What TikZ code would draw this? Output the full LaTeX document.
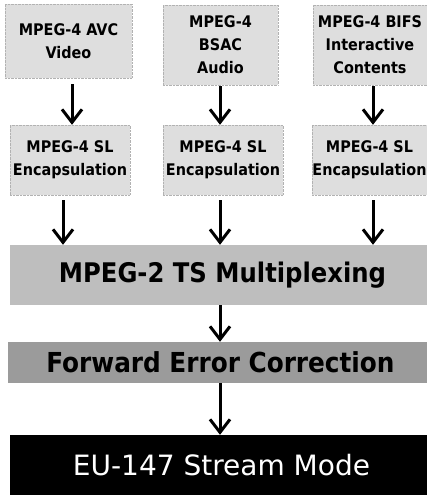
\documentclass[tikz,border=0pt]{standalone}
\usepackage{fontspec}
\setmainfont{DejaVu Sans Condensed}
\newfontfamily\plainfont{DejaVu Sans}
\usepackage{tikz}
\usetikzlibrary{arrows.meta,positioning}
\definecolor{srcgray}{RGB}{222,222,222}
\definecolor{muxgray}{RGB}{190,190,190}
\definecolor{fecgray}{RGB}{155,155,155}

\begin{document}
\begin{tikzpicture}[x=1pt,y=-1pt,
  src/.style={fill=srcgray,draw=gray!60,densely dotted,inner sep=0pt,align=center,
    font=\fontsize{16}{23}\selectfont\bfseries},
  bar/.style={inner sep=0pt,font=\fontsize{27}{30}\selectfont\bfseries},
  flow/.style={-{Straight Barb[length=13pt,width=20pt,line width=3pt]},line width=3pt,solid}]
  \useasboundingbox (0,0) rectangle (427,495);
  % sources
  \node[src,minimum width=127pt,minimum height=74pt] (avc) at (68.5,41) {MPEG-4 AVC\\Video};
  \node[src,minimum width=115pt,minimum height=80pt] (bsac) at (220.5,45) {MPEG-4\\BSAC\\Audio};
  \node[src,minimum width=114pt,minimum height=80pt] (bifs) at (370,45) {MPEG-4 BIFS\\Interactive\\Contents};
  % SL encapsulation
  \node[src,minimum width=120pt,minimum height=70pt] (sl1) at (70,160) {MPEG-4 SL\\Encapsulation};
  \node[src,minimum width=120pt,minimum height=70pt] (sl2) at (223,160) {MPEG-4 SL\\Encapsulation};
  \node[src,minimum width=115pt,minimum height=70pt] (sl3) at (369.5,160) {MPEG-4 SL\\Encapsulation};
  % bars (run past the right edge)
  \node[bar,fill=muxgray,minimum width=425pt,minimum height=60pt] (mux) at (222.5,275) {MPEG-2 TS Multiplexing};
  \node[bar,fill=fecgray,minimum width=425pt,minimum height=41pt,font=\fontsize{27.5}{30}\selectfont\bfseries] (fec) at (220.5,362.5) {Forward Error Correction};
  \node[bar,fill=black,text=white,minimum width=423pt,minimum height=60pt,font=\plainfont\fontsize{28}{32}\selectfont] (eu) at (221.5,465) {EU-147 Stream Mode};
  % arrows
  \draw[flow,shorten <=6pt] ([xshift=3.5pt]avc.south) -- ([xshift=2pt]sl1.north);
  \draw[flow,shorten <=1pt] ([xshift=-0.5pt]bsac.south) -- ([xshift=-3pt]sl2.north);
  \draw[flow,shorten <=1pt] ([xshift=3pt]bifs.south) -- ([xshift=3.5pt]sl3.north);
  \draw[flow,shorten <=5pt] ([xshift=-7pt]sl1.south) -- ([xshift=-7pt]sl1.south |- mux.north);
  \draw[flow,shorten <=5pt] ([xshift=-3pt]sl2.south) -- ([xshift=-3pt]sl2.south |- mux.north);
  \draw[flow,shorten <=5pt] ([xshift=3.5pt]sl3.south) -- ([xshift=3.5pt]sl3.south |- mux.north);
  \draw[flow] ([xshift=-2.5pt]mux.south) -- ([xshift=-0.5pt]fec.north);
  \draw[flow] ([xshift=-0.5pt]fec.south) -- ([xshift=-1.5pt]eu.north);
\end{tikzpicture}
\end{document}
